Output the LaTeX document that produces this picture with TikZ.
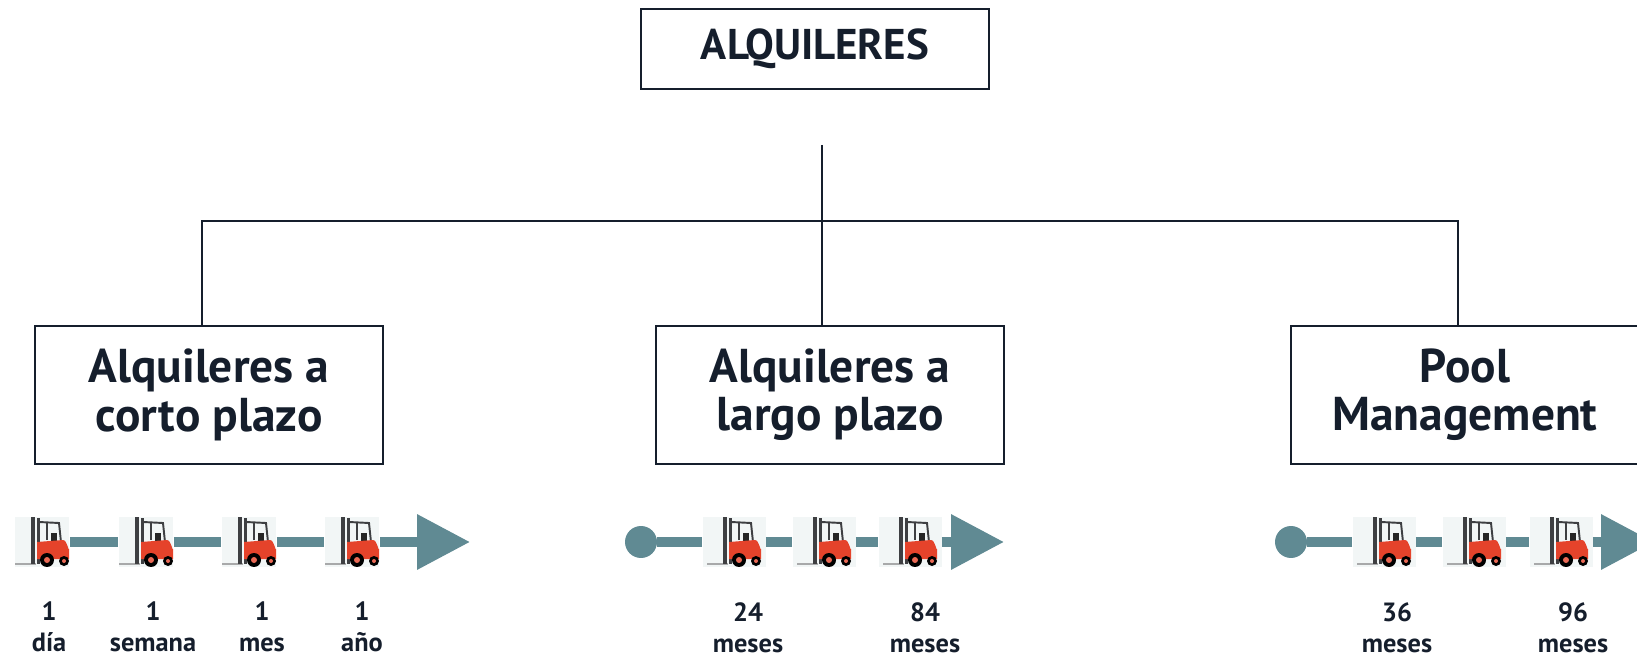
\documentclass[tikz,border=0pt]{standalone}
\usepackage{fontspec}
\setmainfont{PT Sans}
\usetikzlibrary{arrows.meta}
\definecolor{tinta}{HTML}{151E2C}
\definecolor{barra}{HTML}{608A93}
\definecolor{rojo}{HTML}{E5432B}
\definecolor{fondo}{HTML}{F2F6F6}
\definecolor{gris}{HTML}{3E3F42}
\begin{document}
\begin{tikzpicture}[x=0.02cm,y=-0.02cm,
	caja/.style={draw=tinta, line width=1.1pt, text=tinta, align=center, minimum width=6.96cm, minimum height=2.76cm, font=\bfseries\fontsize{27}{27.5}\selectfont},
	linea/.style={draw=tinta, line width=0.9pt},
	eje/.style={draw=barra, line width=0.2cm, -{Triangle[length=1.06cm,width=1.06cm]}},
	inicio/.style={circle, fill=barra, minimum size=0.64cm, inner sep=0pt},
	etiq/.style={text=tinta, align=center, font=\bfseries\fontsize{15}{17.6}\selectfont},
	carro/.style={minimum width=#1, minimum height=1cm, inner sep=0pt, fill=fondo, path picture={
		\begin{scope}[shift={(path picture bounding box.center)}]
			\fill[gris!45] (-27,21) rectangle (-6,23);
			\fill[gris] (-11,-25) rectangle (-7,22);
			\fill[gris] (-5,-24) rectangle (-2,22);
			\draw[gris, line width=1.1pt] (-3,-20) -- (17,-19) -- (19,0);
			\draw[gris, line width=1.1pt] (5,-20) -- (5,-2);
			\fill[black!85] (9,-9) rectangle (15,0);
			\fill[rojo] (-5,0) -- (21,-2) to[out=0,in=-90] (27,7) -- (27,17) -- (-5,17) -- cycle;
			\fill[black] (5,18) circle (7);
			\fill[rojo!80!white] (5,18) circle (3);
			\fill[black] (22,19) circle (5);
			\fill[rojo!80!white] (22,19) circle (2);
		\end{scope}}}]
	\useasboundingbox (0,0) rectangle (1637,658);
	% arbol
	\node (Al) at (815,49) [caja, minimum height=1.6cm, font=\bfseries\fontsize{24.5}{28}\selectfont] {ALQUILERES};
	\node (Co) at (209,395) [caja] {Alquileres a\\corto plazo};
	\node (La) at (830,395) [caja] {Alquileres a\\largo plazo};
	\node (Po) at (1465,395) [caja] {Pool\\Management};
	\coordinate (ar) at (822,145);
	\coordinate (ba) at (822,221);
	\draw[linea] (ar) -- (ar |- La.north);
	\draw[linea] ([xshift=-.14cm]Co.north) |- (ba) -| ([xshift=-.14cm]Po.north);
	% corto plazo
	\node (c1) at (42,542) [carro=1.1cm] {};
	\node (c2) at (146,542) [carro=1.1cm] {};
	\node (c3) at (249,542) [carro=1.1cm] {};
	\node (c4) at (352,542) [carro=1.1cm] {};
	\coordinate (t1) at (470,542);
	\draw[eje] (c1) -- (c2) -- (c3) -- (c4) -- (t1);
	\node at (49,627) [etiq] {1\\día};
	\node at (153,627) [etiq] {1\\semana};
	\node at (262,627) [etiq] {1\\mes};
	\node at (362,627) [etiq] {1\\año};
	% largo plazo
	\node (s2) at (641,542) [inicio] {};
	\node (c5) at (734,542) [carro=1.26cm] {};
	\node (c6) at (824,542) [carro=1.26cm] {};
	\node (c7) at (910,542) [carro=1.26cm] {};
	\coordinate (t2) at (1004,542);
	\draw[eje] (s2) -- (c5) -- (c6) -- (c7) -- (t2);
	\node at (748,628) [etiq] {24\\meses};
	\node at (925,628) [etiq] {84\\meses};
	% pool
	\node (s3) at (1291,542) [inicio] {};
	\node (c8) at (1384,542) [carro=1.26cm] {};
	\node (c9) at (1474,542) [carro=1.26cm] {};
	\node (c10) at (1561,542) [carro=1.26cm] {};
	\coordinate (t3) at (1654,542);
	\draw[eje] (s3) -- (c8) -- (c9) -- (c10) -- (t3);
	\node at (1397,628) [etiq] {36\\meses};
	\node at (1573,628) [etiq] {96\\meses};
\end{tikzpicture}
\end{document}
